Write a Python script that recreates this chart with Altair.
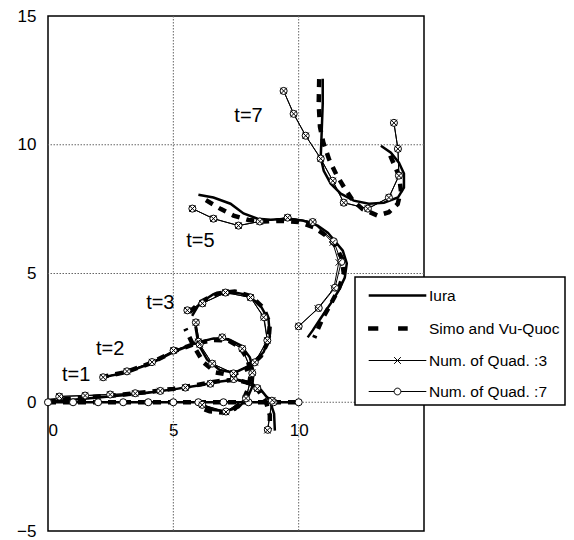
import altair as alt
import pandas as pd

SERIES = ["Iura", "Simo and Vu-Quoc", "Num. of Quad. :3", "Num. of Quad. :7"]

# Iura solution: beam configuration (x, y) at each time
IURA_T0 = [(0, 0), (10, 0)]
IURA_T1 = [(0.0, 0.02), (1.0, 0.1), (2.0, 0.18), (3.0, 0.27), (4.0, 0.37), (5.0, 0.5),
           (6.0, 0.65), (6.8, 0.8), (7.5, 0.88), (8.05, 0.78), (8.5, 0.48), (8.85, 0.05),
           (9.02, -0.45), (9.05, -1.1)]
IURA_T2 = [(2.1, 0.95), (3.1, 1.15), (4.1, 1.5), (5.0, 1.95), (5.9, 2.3), (6.6, 2.48),
           (7.2, 2.45), (7.7, 2.2), (8.05, 1.75), (8.2, 1.2), (8.15, 0.6), (7.95, 0.15),
           (7.6, -0.2), (7.1, -0.35), (6.6, -0.3), (6.2, -0.12)]
IURA_T3 = [(5.75, 3.35), (6.05, 3.85), (6.6, 4.2), (7.25, 4.3), (7.9, 4.18), (8.45, 3.8),
           (8.8, 3.2), (8.85, 2.55), (8.6, 1.95), (8.1, 1.45), (7.45, 1.15), (6.85, 1.25),
           (6.35, 1.65), (6.0, 2.25), (5.88, 2.95)]
IURA_T5 = [(6.0, 8.06), (6.6, 7.95), (7.28, 7.71), (7.8, 7.33), (8.36, 7.13), (8.88, 7.09),
           (9.56, 7.13), (10.2, 7.05), (10.76, 6.86), (11.16, 6.59), (11.45, 6.25),
           (11.76, 5.89), (11.92, 5.39), (11.84, 4.84), (11.6, 4.34), (11.28, 3.84),
           (10.88, 3.26), (10.56, 2.79), (10.36, 2.52)]
IURA_T7 = [(10.96, 12.56), (10.96, 11.59), (10.92, 10.54), (10.88, 9.5), (11.0, 8.99),
           (11.28, 8.49), (11.68, 8.1), (12.2, 7.83), (12.8, 7.71), (13.4, 7.75),
           (13.96, 7.95), (14.2, 8.33), (14.2, 8.88), (14.0, 9.3), (13.68, 9.69), (13.28, 9.96)]

# Simo and Vu-Quoc solution
SIMO_T0 = [(0, 0), (10, 0)]
SIMO_T1 = [(0.0, 0.05), (1.0, 0.14), (2.0, 0.22), (3.0, 0.3), (4.0, 0.4), (5.0, 0.52),
           (6.0, 0.68), (6.8, 0.82), (7.5, 0.88), (8.0, 0.75), (8.4, 0.45), (8.7, 0.0),
           (8.85, -0.5), (8.85, -1.05)]
SIMO_T2 = [(2.1, 0.97), (3.1, 1.17), (4.1, 1.52), (5.0, 1.97), (5.9, 2.28), (6.6, 2.42),
           (7.2, 2.4), (7.65, 2.15), (7.95, 1.7), (8.1, 1.15), (8.0, 0.55), (7.8, 0.1),
           (7.45, -0.25), (6.95, -0.4), (6.45, -0.35), (6.05, -0.2)]
SIMO_T3 = [(5.65, 3.5), (6.1, 3.9), (6.75, 4.22), (7.45, 4.3), (8.1, 4.12), (8.6, 3.65),
           (8.85, 3.05), (8.8, 2.4), (8.5, 1.8), (7.95, 1.3), (7.3, 1.05), (6.68, 1.16),
           (6.2, 1.55), (5.8, 2.2), (5.48, 2.86)]
SIMO_T5 = [(6.3, 7.85), (6.9, 7.5), (7.4, 7.25), (8.0, 7.08), (8.6, 7.02), (9.3, 7.05),
           (10.0, 7.0), (10.6, 6.8), (11.05, 6.5), (11.45, 6.1), (11.72, 5.6), (11.8, 5.0),
           (11.6, 4.4), (11.3, 3.85), (10.95, 3.25), (10.62, 2.5)]
SIMO_T7 = [(10.82, 12.55), (10.8, 11.6), (10.85, 10.7), (10.98, 10.1), (11.21, 9.44),
           (11.5, 8.85), (11.81, 8.35), (12.15, 7.85), (12.55, 7.5), (13.15, 7.25),
           (13.6, 7.38), (13.95, 7.7), (14.08, 8.22), (14.0, 8.8), (13.8, 9.25), (13.62, 9.65)]

# Numerical nodes, 3-point quadrature
QUAD3_T1 = [(0.45, 0.23), (1.48, 0.26), (2.48, 0.3), (3.48, 0.34), (4.48, 0.44), (5.48, 0.57),
            (6.48, 0.72), (7.41, 0.92), (8.35, 0.53), (8.95, 0.08), (8.75, -1.09)]
QUAD3_T2 = [(2.2, 0.97), (3.15, 1.2), (4.15, 1.56), (5.01, 2.01), (6.0, 2.35), (6.95, 2.53),
            (7.75, 2.08), (8.15, 1.15), (7.9, 0.15), (7.1, -0.38), (6.15, -0.1)]
QUAD3_T3 = [(5.56, 3.57), (6.16, 3.84), (7.08, 4.26), (8.08, 4.07), (8.6, 3.3), (8.75, 2.4),
            (8.25, 1.55), (7.4, 1.12), (6.55, 1.5), (6.05, 2.25), (5.9, 3.1)]
QUAD3_T5 = [(5.76, 7.52), (6.6, 7.13), (7.6, 6.86), (8.45, 7.02), (9.56, 7.17), (10.56, 7.0),
            (11.36, 6.2), (11.6, 5.43), (11.4, 4.42), (10.76, 3.64), (10.0, 2.95)]
QUAD3_T7 = [(9.4, 12.09), (9.8, 11.2), (10.28, 10.35), (10.88, 9.46), (11.36, 8.6),
            (11.8, 7.75), (12.76, 7.52), (13.6, 7.95), (14.0, 8.8), (13.96, 9.84), (13.8, 10.85)]

# Numerical nodes, 7-point quadrature
QUAD7_T0 = [(0, 0), (1, 0), (2, 0), (3, 0), (4, 0), (5, 0), (6, 0), (7, 0), (8, 0), (9, 0), (10, 0)]
QUAD7_T1 = [(0.45, 0.22), (1.48, 0.26), (2.48, 0.3), (3.48, 0.35), (4.48, 0.44), (5.48, 0.57),
            (6.48, 0.72), (7.41, 0.9), (8.35, 0.55), (8.93, 0.06), (8.77, -1.07)]
QUAD7_T2 = [(2.2, 0.97), (3.15, 1.2), (4.15, 1.56), (5.01, 2.01), (6.0, 2.35), (6.95, 2.52),
            (7.75, 2.08), (8.15, 1.13), (7.9, 0.15), (7.1, -0.36), (6.15, -0.1)]
QUAD7_T3 = [(5.56, 3.57), (6.16, 3.84), (7.08, 4.26), (8.08, 4.07), (8.62, 3.3), (8.75, 2.4),
            (8.25, 1.55), (7.4, 1.12), (6.55, 1.5), (6.05, 2.25), (5.9, 3.1)]
QUAD7_T5 = [(5.76, 7.52), (6.6, 7.13), (7.6, 6.86), (8.45, 7.02), (9.56, 7.17), (10.56, 7.0),
            (11.4, 6.25), (11.7, 5.45), (11.45, 4.45), (10.8, 3.66), (10.0, 2.95)]
QUAD7_T7 = [(9.4, 12.09), (9.8, 11.2), (10.28, 10.35), (10.88, 9.46), (11.36, 8.6),
            (11.8, 7.75), (12.76, 7.52), (13.6, 7.95), (14.0, 8.8), (13.96, 9.84), (13.8, 10.85)]

# Time labels
TIME_LABELS = ["t=1", "t=2", "t=3", "t=5", "t=7"]
TIME_LABEL_X = [1.12, 2.48, 4.48, 6.08, 8.0]
TIME_LABEL_Y = [1.05, 2.05, 3.84, 6.28, 11.12]

GRID_X = [5, 10]
GRID_Y = [0, 5, 10]
X_TICKS = [0, 5, 10]
Y_TICKS = [-5, 0, 5, 10, 15]


def frame(curves):
    rows = []
    for t, pts in curves.items():
        for i, (x, y) in enumerate(pts):
            rows.append({"t": t, "i": i, "x": x, "y": y})
    return pd.DataFrame(rows)


iura = frame({0: IURA_T0, 1: IURA_T1, 2: IURA_T2, 3: IURA_T3, 5: IURA_T5, 7: IURA_T7})
simo = frame({0: SIMO_T0, 1: SIMO_T1, 2: SIMO_T2, 3: SIMO_T3, 5: SIMO_T5, 7: SIMO_T7})
quad3 = frame({1: QUAD3_T1, 2: QUAD3_T2, 3: QUAD3_T3, 5: QUAD3_T5, 7: QUAD3_T7})
quad7 = frame({0: QUAD7_T0, 1: QUAD7_T1, 2: QUAD7_T2, 3: QUAD7_T3, 5: QUAD7_T5, 7: QUAD7_T7})

FONT = "Liberation Sans"
xscale = alt.Scale(domain=[0, 15], nice=False, zero=False)
yscale = alt.Scale(domain=[-5, 15], nice=False, zero=False)
xaxis = alt.Axis(values=X_TICKS, title=None, grid=False, domain=False, ticks=False, tickSize=0,
                 offset=-129, labelPadding=20, labelFontSize=17, labelFont=FONT,
                 labelColor="black", labelBaseline="top")
yaxis = alt.Axis(values=Y_TICKS, title=None, grid=False, domain=False, ticks=False, tickSize=0,
                 labelPadding=12, labelFontSize=17, labelFont=FONT, labelColor="black")


def X(field="x"):
    return alt.X(f"{field}:Q", scale=xscale, axis=xaxis)


def Y(field="y"):
    return alt.Y(f"{field}:Q", scale=yscale, axis=yaxis)


grid_v = alt.Chart(pd.DataFrame({"gx": GRID_X})).mark_rule(
    color="#666", strokeWidth=1, strokeDash=[1.5, 1.5]).encode(x=X("gx"))
grid_h = alt.Chart(pd.DataFrame({"gy": GRID_Y})).mark_rule(
    color="#666", strokeWidth=1, strokeDash=[1.5, 1.5]).encode(y=Y("gy"))


def curve_enc():
    return dict(x=X(), y=Y(), detail="t:N", order="i:Q")


iura_line = alt.Chart(iura).mark_line(color="black", strokeWidth=2.5).encode(**curve_enc())
simo_line = alt.Chart(simo).mark_line(color="black", strokeWidth=4.5,
                                      strokeDash=[8, 7]).encode(**curve_enc())
quad3_line = alt.Chart(quad3).mark_line(color="black", strokeWidth=1).encode(**curve_enc())
quad7_line = alt.Chart(quad7).mark_line(color="black", strokeWidth=1).encode(**curve_enc())

X_MARK = "M-1,-1L1,1M-1,1L1,-1"
quad7_pts = alt.Chart(quad7).mark_point(
    shape="circle", size=50, filled=True, fill="white", stroke="black", strokeWidth=1,
    opacity=1).encode(x=X(), y=Y())
quad3_pts = alt.Chart(quad3).mark_point(
    shape=X_MARK, size=40, filled=False, color="black", strokeWidth=1, opacity=1
).encode(x=X(), y=Y())

labels = alt.Chart(pd.DataFrame({"label": TIME_LABELS, "lx": TIME_LABEL_X, "ly": TIME_LABEL_Y})
                   ).mark_text(font=FONT, fontSize=20, color="black", align="center",
                               baseline="middle").encode(x=X("lx"), y=Y("ly"), text="label:N")

# Legend keys drawn as custom symbol paths (line sample plus marker)
LEGEND_PATHS = [
    "M-2.4,0L2.4,0",
    "M-2.45,0L-1.6,0M0.05,0L0.85,0",
    "M-2.4,0L2.4,0M-0.28,-0.28L0.28,0.28M-0.28,0.28L0.28,-0.28",
    "M-2.4,0L-0.28,0M0.28,0L2.4,0M-0.28,0A0.28,0.28 0 1 0 0.28,0A0.28,0.28 0 1 0 -0.28,0",
]
LEGEND_WIDTHS = [2.5, 4.5, 1, 1]

legend = alt.Legend(
    orient="none", legendX=307, legendY=261, title=None, direction="vertical",
    labelFont=FONT, labelFontSize=15.5, labelColor="black", labelOffset=17,
    symbolSize=576, symbolOffset=23, symbolStrokeColor="black", symbolOpacity=1,
    padding=5, rowPadding=10, strokeColor="black", fillColor="white",
)
legend_keys = alt.Chart(pd.DataFrame({"series": SERIES})).mark_point(
    filled=False, color="black", clip=True, opacity=1).encode(
    x=alt.value(-500), y=alt.value(-500),
    shape=alt.Shape("series:N", scale=alt.Scale(domain=SERIES, range=LEGEND_PATHS), legend=legend),
    strokeWidth=alt.StrokeWidth("series:N",
                                scale=alt.Scale(type="ordinal", domain=SERIES, range=LEGEND_WIDTHS),
                                legend=legend),
)

chart = alt.layer(
    grid_v, grid_h, quad3_line, quad7_line, iura_line, simo_line, quad7_pts, quad3_pts,
    labels, legend_keys,
).properties(
    width=376, height=515,
    autosize=alt.AutoSizeParams(type="none"),
    padding={"left": 48, "top": 16, "right": 150, "bottom": 9},
    background="white",
).configure_view(stroke="black", strokeWidth=1.5).configure_legend(strokeWidth=1.5)

chart.save("out.html", embed_options={"renderer": "svg", "actions": False})
